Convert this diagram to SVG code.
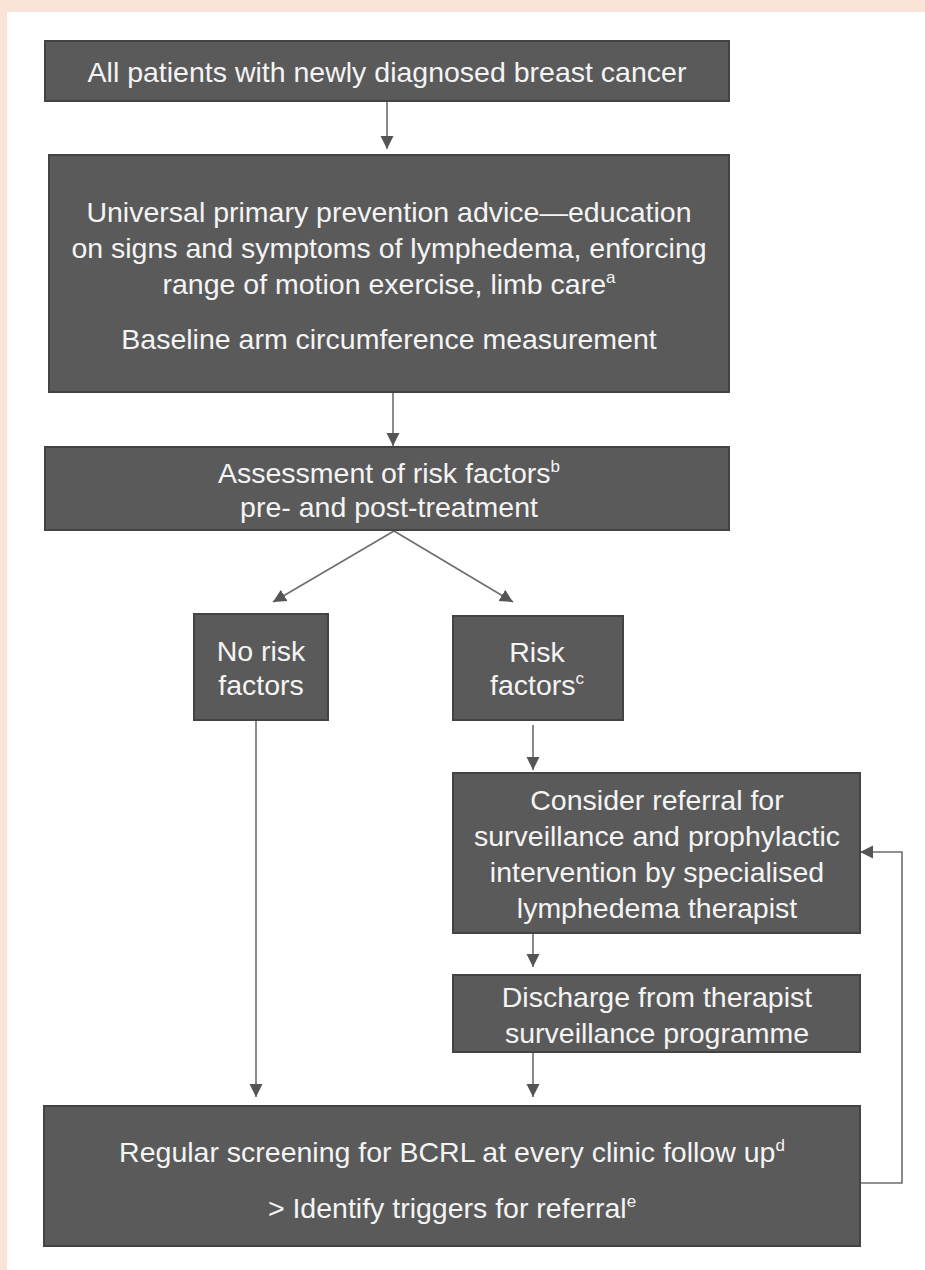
<svg xmlns="http://www.w3.org/2000/svg" width="925" height="1270" viewBox="0 0 925 1270">
<defs>
<style>
.box{fill:#5a5a5a;stroke:#434343;stroke-width:2}
.t{font-family:"Liberation Sans",Arial,sans-serif;font-size:28.5px;fill:#f4f4f4;text-anchor:middle}
.sup{font-size:17px}
.ln{fill:none;stroke:#6e6e6e;stroke-width:1.6}
</style>
<marker id="ah" viewBox="0 0 10 10" refX="10" refY="5" markerWidth="13" markerHeight="14" markerUnits="userSpaceOnUse" orient="auto">
<path d="M0,0 L10,5 L0,10 z" fill="#555"/>
</marker>
</defs>
<rect x="0" y="0" width="925" height="1270" fill="#fae3d9"/>
<rect x="7" y="12" width="918" height="1258" fill="#ffffff"/>

<g id="connectors">
<line class="ln" x1="387" y1="101" x2="387" y2="149" marker-end="url(#ah)"/>
<line class="ln" x1="393" y1="392" x2="393" y2="446" marker-end="url(#ah)"/>
<line class="ln" x1="394" y1="531" x2="273" y2="602" marker-end="url(#ah)"/>
<line class="ln" x1="394" y1="531" x2="513" y2="602" marker-end="url(#ah)"/>
<line class="ln" x1="256" y1="720" x2="256" y2="1097" marker-end="url(#ah)"/>
<line class="ln" x1="533" y1="725" x2="533" y2="770" marker-end="url(#ah)"/>
<line class="ln" x1="533" y1="933" x2="533" y2="967" marker-end="url(#ah)"/>
<line class="ln" x1="533" y1="1052" x2="533" y2="1097" marker-end="url(#ah)"/>
<polyline class="ln" points="860,1183 902,1183 902,852 860,852" marker-end="url(#ah)"/>
</g>

<g id="n1">
<rect class="box" x="45" y="41" width="684" height="60"/>
<text class="t" x="387" y="82">All patients with newly diagnosed breast cancer</text>
</g>

<g id="n2">
<rect class="box" x="49" y="155" width="680" height="237"/>
<text class="t" x="389" y="222">Universal primary prevention advice—education</text>
<text class="t" x="389" y="258">on signs and symptoms of lymphedema, enforcing</text>
<text class="t" x="389" y="294">range of motion exercise, limb care<tspan class="sup" dy="-11">a</tspan></text>
<text class="t" x="389" y="349">Baseline arm circumference measurement</text>
</g>

<g id="n3">
<rect class="box" x="45" y="447" width="684" height="83"/>
<text class="t" x="389" y="483">Assessment of risk factors<tspan class="sup" dy="-11">b</tspan></text>
<text class="t" x="389" y="517">pre- and post-treatment</text>
</g>

<g id="n4">
<rect class="box" x="194" y="614" width="134" height="106"/>
<text class="t" x="261" y="661">No risk</text>
<text class="t" x="261" y="695">factors</text>
</g>

<g id="n5">
<rect class="box" x="453" y="616" width="170" height="104"/>
<text class="t" x="537" y="662">Risk</text>
<text class="t" x="537" y="695">factors<tspan class="sup" dy="-11">c</tspan></text>
</g>

<g id="n6">
<rect class="box" x="453" y="773" width="407" height="160"/>
<text class="t" x="657" y="810">Consider referral for</text>
<text class="t" x="657" y="846">surveillance and prophylactic</text>
<text class="t" x="657" y="882">intervention by specialised</text>
<text class="t" x="657" y="918">lymphedema therapist</text>
</g>

<g id="n7">
<rect class="box" x="453" y="975" width="407" height="77"/>
<text class="t" x="657" y="1007">Discharge from therapist</text>
<text class="t" x="657" y="1043">surveillance programme</text>
</g>

<g id="n8">
<rect class="box" x="44" y="1106" width="816" height="140"/>
<text class="t" x="452" y="1162">Regular screening for BCRL at every clinic follow up<tspan class="sup" dy="-11">d</tspan></text>
<text class="t" x="452" y="1218">&gt; Identify triggers for referral<tspan class="sup" dy="-11">e</tspan></text>
</g>
</svg>
